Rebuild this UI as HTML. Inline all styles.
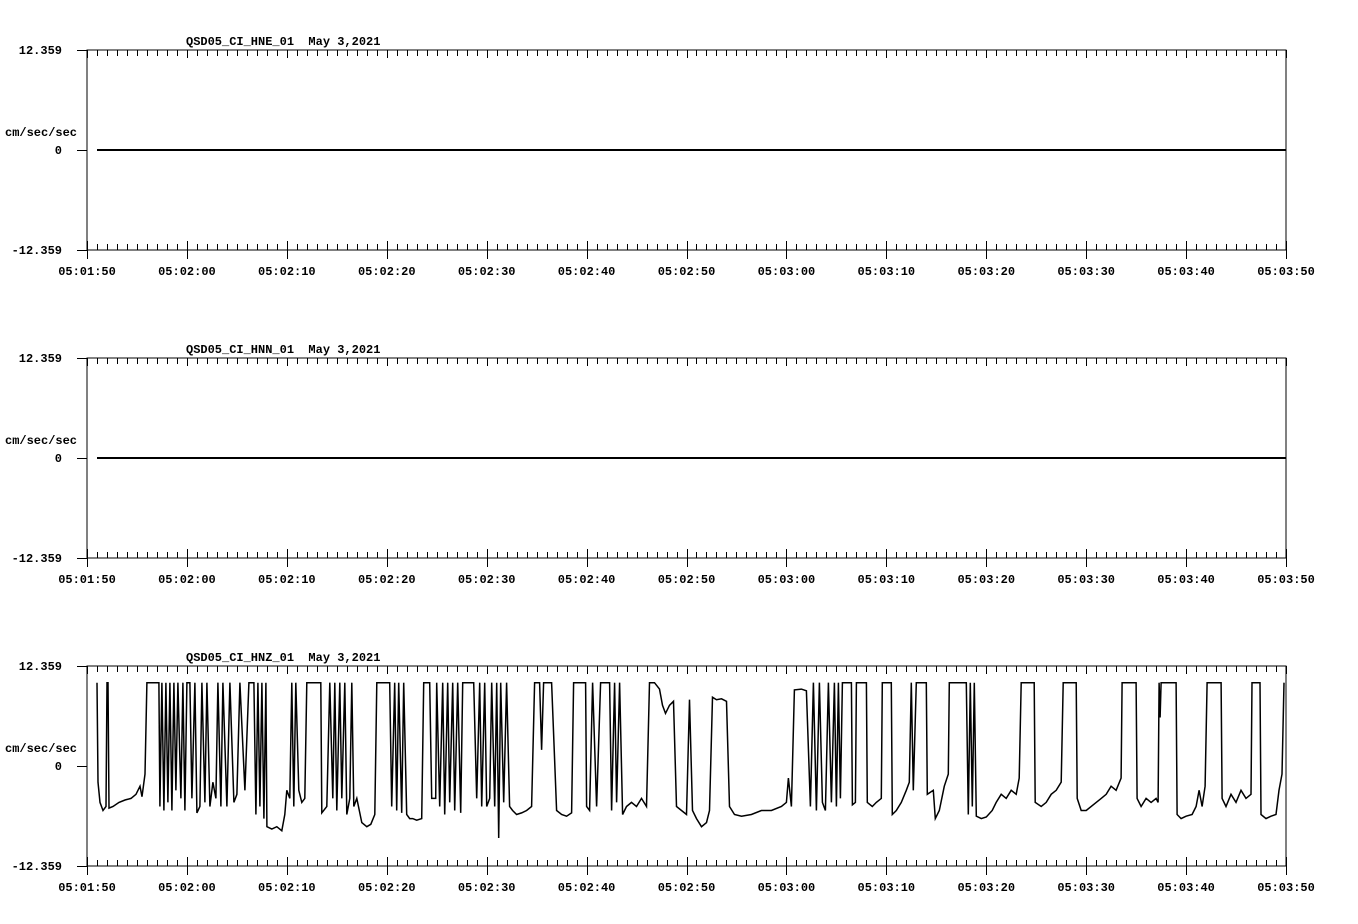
<!DOCTYPE html>
<html><head><meta charset="utf-8"><style>
html,body{margin:0;padding:0;background:#fff;}
svg{display:block;}
text{font-family:"Liberation Mono","DejaVu Sans Mono",monospace;font-weight:bold;font-size:12px;fill:#000;}
</style></head><body>
<svg id="chart" width="1358" height="924" viewBox="0 0 1358 924" xmlns="http://www.w3.org/2000/svg"></svg>
<script>
const channelNames = ["QSD05_CI_HNE_01","QSD05_CI_HNN_01","QSD05_CI_HNZ_01"];
const dateLabel = "May 3,2021";
const yTickLabels = ["12.359","0","-12.359"];
const yTickValues = [12.359,0,-12.359];
const xTickLabels = ["05:01:50","05:02:00","05:02:10","05:02:20","05:02:30","05:02:40","05:02:50","05:03:00","05:03:10","05:03:20","05:03:30","05:03:40","05:03:50"];
const flatTimes = [1.0,120];
const flatValues = [0,0];
const zTimes = [1.0,1.1,1.3,1.6,1.9,2.0,2.1,2.2,2.6,3.2,3.8,4.4,4.9,5.3,5.5,5.8,6.0,6.5,7.2,7.3,7.5,7.7,7.9,8.1,8.3,8.5,8.7,8.9,9.1,9.4,9.6,9.8,10.0,10.3,10.5,10.8,11.0,11.3,11.5,11.8,12.0,12.3,12.6,12.9,13.1,13.4,13.6,14.0,14.3,14.7,15.0,15.3,15.8,16.2,16.7,16.9,17.1,17.3,17.5,17.7,17.9,18.0,18.5,19.0,19.5,19.8,20.0,20.3,20.5,20.7,20.9,21.2,21.5,21.8,22.0,22.5,23.0,23.4,23.5,24.0,24.3,24.6,24.8,25.0,25.3,25.5,25.8,26.0,26.3,26.5,26.7,27.0,27.5,28.0,28.4,28.8,29.0,29.5,30.0,30.3,30.5,30.8,31.0,31.2,31.5,31.7,32.0,32.3,32.6,33.0,33.5,33.7,34.0,34.3,34.5,34.9,35.0,35.3,35.6,35.8,36.1,36.3,36.6,36.8,37.1,37.4,37.6,37.8,38.3,38.7,39.0,39.3,39.5,39.8,40.0,40.3,40.5,40.8,41.0,41.2,41.4,41.7,42.0,42.3,42.6,43.0,43.5,44.0,44.5,44.8,45.3,45.5,45.7,46.2,46.5,47.0,47.5,48.0,48.5,48.7,49.2,49.9,50.0,50.3,50.6,51.0,51.4,52.0,52.3,52.5,52.8,53.0,53.3,53.6,54.0,54.5,55.0,55.5,56.0,56.3,56.8,57.3,57.6,57.9,58.3,58.7,59.0,59.5,60.0,60.3,60.6,61.0,61.5,62.0,62.3,62.6,63.0,63.5,64.0,64.3,64.8,65.5,66.5,67.5,68.5,69.5,70.0,70.2,70.5,70.8,71.5,72.0,72.4,72.7,73.0,73.3,73.6,73.9,74.2,74.5,74.8,75.0,75.2,75.4,75.6,76.0,76.5,76.6,76.9,77.0,77.5,78.0,78.1,78.6,79.0,79.5,79.6,80.0,80.5,80.6,81.0,81.5,82.0,82.3,82.5,82.7,83.0,83.5,84.0,84.1,84.7,84.9,85.3,85.8,86.2,86.3,87.0,88.0,88.2,88.4,88.6,88.8,89.0,89.5,90.0,90.6,91.0,91.5,92.0,92.5,93.0,93.3,93.5,94.0,94.8,94.9,95.5,96.0,96.5,97.0,97.5,97.7,98.3,99.0,99.1,99.5,100.0,101.0,101.5,102.0,102.5,103.0,103.5,103.6,104.3,105.0,105.1,105.5,106.0,106.5,107.0,107.2,107.3,107.4,107.5,108.3,109.0,109.1,109.5,110.0,110.6,111.0,111.3,111.6,111.9,112.1,112.8,113.5,113.6,114.0,114.5,115.0,115.5,116.0,116.5,116.6,117.0,117.4,117.5,118.0,118.5,119.0,119.3,119.6,119.8];
const zValues = [10.3,-2,-4.5,-5.5,-5,10.3,10.3,-5.2,-5,-4.5,-4.2,-4,-3.5,-2.5,-3.8,-1,10.3,10.3,10.3,-5,10.3,-5.5,10.3,-4.5,10.3,-5.5,10.3,-3,10.3,-4,10.3,-5.5,10.3,10.3,-4,10.3,-5.8,-5,10.3,-4.5,10.3,-5,-2,-4,10.3,-5,10.3,-5,10.3,-4.5,-3.5,10.3,-3,10.3,10.3,-6,10.3,-5,10.3,-6.5,10.3,-7.5,-7.8,-7.5,-8,-6,-3,-4,10.3,-5,10.3,-3,-4.5,-4,10.3,10.3,10.3,10.3,-5.8,-5,10.3,-4,10.3,-5.5,10.3,-4,10.3,-6,-4,10.3,-5,-4,-7,-7.5,-7.2,-6,10.3,10.3,10.3,10.3,-5,10.3,-5.5,10.3,-5.8,10.3,-6,-6.5,-6.5,-6.7,-6.5,10.3,10.3,10.3,-4,-4,10.3,-5,10.3,-6,10.3,-4.5,10.3,-5.5,10.3,-5.8,10.3,10.3,10.3,10.3,-4,10.3,-5,10.3,-5,-4,10.3,-5,10.3,-8.9,10.3,-4.5,10.3,-5,-5.5,-6,-5.8,-5.5,-5,10.3,10.3,2,10.3,10.3,10.3,-5.5,-6,-6.2,-5.8,10.3,10.3,10.3,-5,-5.5,10.3,-5,10.3,10.3,10.3,-5.5,10.3,-4.5,10.3,-6,-5,-4.5,-5,-4,-5,10.3,10.3,9.5,7.5,6.5,7.5,8.0,-5,-5.5,-6,8.2,-5.5,-6.5,-7.5,-7,-5.5,8.5,8.2,8.3,8.0,-5,-6,-6.2,-6,-5.5,-5.5,-5,-4.5,-1.5,-5,9.4,9.5,9.3,-5,10.3,-5.5,10.3,-4.5,-5.5,10.3,-4.5,10.3,-5,10.3,-4,10.3,10.3,10.3,-4.8,-4.5,10.3,10.3,10.3,-4.5,-5,-4.5,-4,10.3,10.3,10.3,-6,-5.5,-4.5,-3,-2,10.3,-3,10.3,10.3,10.3,-3.5,-3,-6.5,-5.5,-2.5,-1,10.3,10.3,10.3,-6,10.3,-5,10.3,-6.2,-6.5,-6.3,-5.5,-4.5,-3.5,-4,-3,-3.5,-1.5,10.3,10.3,10.3,-4.5,-5,-4.5,-3.5,-3,-2,10.3,10.3,10.3,-4,-5.5,-5.5,-4.5,-4,-3.5,-2.5,-3,-1.5,10.3,10.3,10.3,-4,-5,-4,-4.5,-4,-4.5,10.3,6,10.3,10.3,10.3,-6,-6.5,-6.2,-6,-5,-3,-5,-2.5,10.3,10.3,10.3,-4,-5,-3.5,-4.5,-3,-4,-3.5,10.3,10.3,10.3,-6,-6.5,-6.2,-6,-3,-1,10.3];

const NS="http://www.w3.org/2000/svg";
const svg=document.getElementById('chart');
const X0=87,X1=1286,TSPAN=120,YMAX=12.359;
const panelTops=[50,358,666];
const PH=200;
function xScale(t){return X0+(X1-X0)*t/TSPAN;}
function mk(tag,attrs,parent){const e=document.createElementNS(NS,tag);for(const k in attrs)e.setAttribute(k,attrs[k]);(parent||svg).appendChild(e);return e;}

const seriesT=[flatTimes,flatTimes,zTimes];
const seriesV=[flatValues,flatValues,zValues];

panelTops.forEach((top,p)=>{
  const g=mk('g',{});
  
  
  const bot=top+PH;
  const yScale=v=>top+PH/2-(v/YMAX)*(PH/2);
  const frame=mk('rect',{x:X0,y:top,width:X1-X0,height:PH,fill:'none',stroke:'#000','stroke-width':1,'shape-rendering':'crispEdges'},g);
  
  
  let d='';
  for(let s=0;s<=TSPAN;s++){
    const x=Math.round(xScale(s))+0.5;
    const major=s%10===0;
    d+=`M${x},${top}v${major?8:6}`;
    if(major) d+=`M${x},${bot-9}v18`; else d+=`M${x},${bot-6}v6`;
  }
  yTickValues.forEach(v=>{const y=Math.round(yScale(v))+0.5;d+=`M${X0-10},${y}H${X0}`;});
  const ticks=mk('path',{d:d,stroke:'#000','stroke-width':1,fill:'none','shape-rendering':'crispEdges'},g);
  
  
  yTickLabels.forEach((lab,i)=>{
    const t=mk('text',{x:62,y:yScale(yTickValues[i])+4,'text-anchor':'end'},g);
    t.textContent=lab;
    
    
  });
  const unit=mk('text',{x:5,y:top+86},g);
  unit.textContent='cm/sec/sec';
  
  
  const title=mk('text',{x:186,y:top-5},g);
  title.textContent=channelNames[p]+'\u00a0\u00a0'+dateLabel;
  
  
  xTickLabels.forEach((lab,i)=>{
    const t=mk('text',{x:xScale(i*10),y:bot+25,'text-anchor':'middle'},g);
    t.textContent=lab;
    
    
  });
  const ts=seriesT[p],vs=seriesV[p];
  const pts=ts.map((t,i)=>xScale(t).toFixed(1)+','+yScale(vs[i]).toFixed(1)).join(' ');
  const line=mk('polyline',{points:pts,fill:'none',stroke:'#000','stroke-width':p<2?2:1.5},g);
  
  
});
</script>
</body></html>
